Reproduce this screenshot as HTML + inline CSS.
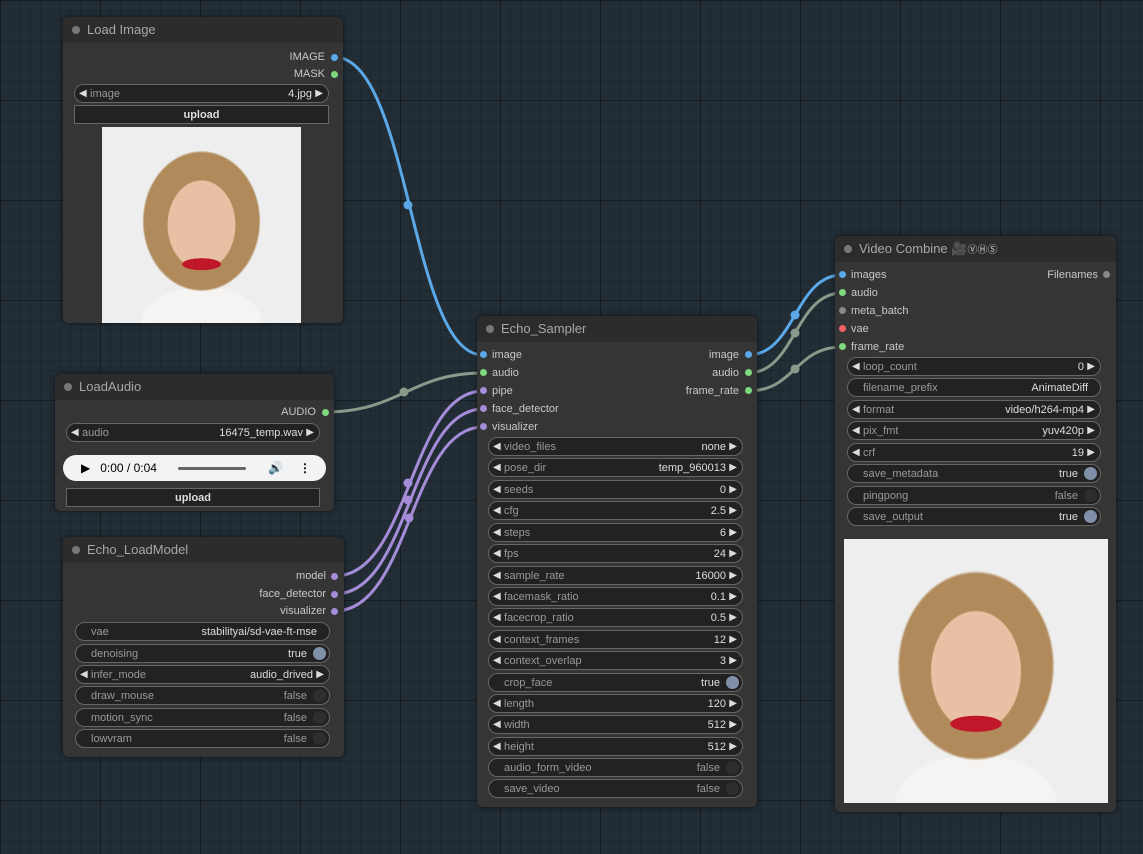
<!DOCTYPE html>
<html><head><meta charset="utf-8"><style>
*{box-sizing:border-box;margin:0;padding:0}
body{width:1143px;height:854px;overflow:hidden;background-color:#222d36;
background-image:linear-gradient(rgba(0,0,0,.25) 1px,transparent 1px),linear-gradient(90deg,rgba(0,0,0,.25) 1px,transparent 1px),linear-gradient(rgba(0,0,0,.12) 1px,transparent 1px),linear-gradient(90deg,rgba(0,0,0,.12) 1px,transparent 1px);
background-size:100px 100px,100px 100px,10px 10px,10px 10px;
font-family:"Liberation Sans",Arial,sans-serif;position:relative}
.n{position:absolute;background:#353535;border-radius:6px;box-shadow:0 0 6px rgba(0,0,0,.6)}
.t{position:absolute;left:0;top:0;right:0;height:26px;background:#2c2c2c;border-radius:6px 6px 0 0;color:#a8a8a8;font-size:13px;line-height:26px;padding-left:24px}
.t:before{content:"";position:absolute;left:9px;top:9px;width:8px;height:8px;border-radius:50%;background:#777}
.s{position:absolute;font-size:11px;color:#c8c8c8;line-height:14px;white-space:nowrap}
.d{position:absolute;width:7px;height:7px;border-radius:50%}
.w{position:absolute;height:19px;background:#222;border:1px solid #666;border-radius:10px;font-size:11px;line-height:18px;color:#999}
.w .l{position:absolute;left:15px}
.w .a{position:absolute;left:4px;color:#ddd;font-size:10px}
.w .b{position:absolute;right:5px;color:#ddd;font-size:10px}
.w .v{position:absolute;right:16px;color:#ddd}
.w .vt{position:absolute;right:22px;color:#ddd}
.w .vf{position:absolute;right:22px;color:#999}
.w .tg{position:absolute;right:3px;top:2px;width:13px;height:13px;border-radius:50%;background:#8090a8}
.w .tf{position:absolute;right:3px;top:2px;width:13px;height:13px;border-radius:50%;background:#2e2e2e}
.btn{position:absolute;height:19px;background:#222;border:1px solid #666;font-size:11px;line-height:18px;color:#ddd;text-align:center;font-weight:bold}
.img{position:absolute;background:
radial-gradient(ellipse 16% 5% at 50% 70%,#c0182a 60%,transparent 62%),
radial-gradient(ellipse 24% 32% at 50% 50%,#e8c0a4 70%,transparent 72%),
radial-gradient(ellipse 48% 58% at 50% 48%,#b08a5a 60%,transparent 62%),
radial-gradient(ellipse 50% 30% at 50% 100%,#f6f4f2 60%,transparent 62%),
#eeeeee}
</style></head><body>
<svg width="1143" height="854" style="position:absolute;left:0;top:0" fill="none" stroke-width="3">
<path d="M334 57 C410 57 410 355 483 355" stroke="#5aa8e8"/>
<path d="M325 412 C400 412 410 373 483 373" stroke="#8a9a8a"/>
<path d="M335 576 C410 576 410 391 483 391" stroke="#a48cd8"/>
<path d="M335 594 C410 594 410 409 483 409" stroke="#a48cd8"/>
<path d="M335 611 C410 611 410 427 483 427" stroke="#a48cd8"/>
<path d="M748 355 C795 355 795 275 842 275" stroke="#5aa8e8"/>
<path d="M748 373 C795 373 795 293 842 293" stroke="#8a9a8a"/>
<path d="M748 391 C795 391 795 347 842 347" stroke="#8a9a8a"/>
<g stroke="none"><circle cx="408" cy="205" r="4.5" fill="#5aa8e8"/><circle cx="404" cy="392" r="4.5" fill="#8a9a8a"/>
<circle cx="408" cy="483" r="4.5" fill="#a48cd8"/><circle cx="408" cy="500" r="4.5" fill="#a48cd8"/><circle cx="409" cy="518" r="4.5" fill="#a48cd8"/>
<circle cx="795" cy="315" r="4.5" fill="#5aa8e8"/><circle cx="795" cy="333" r="4.5" fill="#8a9a8a"/><circle cx="795" cy="369" r="4.5" fill="#8a9a8a"/></g>
</svg>

<div class="n" style="left:63px;top:17px;width:280px;height:306px">
<div class="t">Load Image</div>
<div class="s" style="right:18px;top:33px">IMAGE</div><div class="d" style="left:268px;top:37px;background:#5aa8e8"></div>
<div class="s" style="right:18px;top:50px">MASK</div><div class="d" style="left:268px;top:54px;background:#7ed87e"></div>
<div class="w" style="left:11px;top:67px;width:255px"><span class="a">◀</span><span class="l">image</span><span class="v">4.jpg</span><span class="b">▶</span></div>
<div class="btn" style="left:11px;top:88px;width:255px">upload</div>
<div class="img" style="left:39px;top:110px;width:199px;height:196px"></div>
</div>

<div class="n" style="left:55px;top:374px;width:279px;height:137px">
<div class="t">LoadAudio</div>
<div class="s" style="right:18px;top:31px">AUDIO</div><div class="d" style="left:267px;top:35px;background:#7ed87e"></div>
<div class="w" style="left:11px;top:49px;width:254px"><span class="a">◀</span><span class="l">audio</span><span class="v">16475_temp.wav</span><span class="b">▶</span></div>
<div style="position:absolute;left:8px;top:81px;width:263px;height:26px;background:#f1f3f4;border-radius:13px;font-size:12px;line-height:26px;color:#000;padding-left:18px">▶&nbsp;&nbsp;&nbsp;0:00 / 0:04<span style="position:absolute;left:115px;top:12px;width:68px;height:3px;background:#666;border-radius:2px"></span><span style="position:absolute;left:205px">🔊</span><span style="position:absolute;left:236px;font-weight:bold">⋮</span></div>
<div class="btn" style="left:11px;top:114px;width:254px">upload</div>
</div>

<div class="n" style="left:63px;top:537px;width:281px;height:220px">
<div class="t">Echo_LoadModel</div>
<div class="s" style="right:18px;top:32px">model</div><div class="d" style="left:268px;top:36px;background:#a48cd8"></div>
<div class="s" style="right:18px;top:50px">face_detector</div><div class="d" style="left:268px;top:54px;background:#a48cd8"></div>
<div class="s" style="right:18px;top:67px">visualizer</div><div class="d" style="left:268px;top:71px;background:#a48cd8"></div>
<div class="w" style="left:12px;top:85px;width:255px"><span class="l">vae</span><span class="v" style="right:12px">stabilityai/sd-vae-ft-mse</span></div>
<div class="w" style="left:12px;top:107px;width:255px"><span class="l">denoising</span><span class="vt">true</span><span class="tg"></span></div>
<div class="w" style="left:12px;top:128px;width:255px"><span class="a">◀</span><span class="l">infer_mode</span><span class="v">audio_drived</span><span class="b">▶</span></div>
<div class="w" style="left:12px;top:149px;width:255px"><span class="l">draw_mouse</span><span class="vf">false</span><span class="tf"></span></div>
<div class="w" style="left:12px;top:171px;width:255px"><span class="l">motion_sync</span><span class="vf">false</span><span class="tf"></span></div>
<div class="w" style="left:12px;top:192px;width:255px"><span class="l">lowvram</span><span class="vf">false</span><span class="tf"></span></div>
</div>

<div class="n" style="left:477px;top:316px;width:280px;height:491px">
<div class="t">Echo_Sampler</div>
<div class="d" style="left:3px;top:35px;background:#5aa8e8"></div><div class="s" style="left:15px;top:32px">image</div>
<div class="d" style="left:3px;top:53px;background:#7ed87e"></div><div class="s" style="left:15px;top:50px">audio</div>
<div class="d" style="left:3px;top:71px;background:#a48cd8"></div><div class="s" style="left:15px;top:68px">pipe</div>
<div class="d" style="left:3px;top:89px;background:#a48cd8"></div><div class="s" style="left:15px;top:86px">face_detector</div>
<div class="d" style="left:3px;top:107px;background:#a48cd8"></div><div class="s" style="left:15px;top:104px">visualizer</div>
<div class="s" style="right:18px;top:32px">image</div><div class="d" style="left:268px;top:35px;background:#5aa8e8"></div>
<div class="s" style="right:18px;top:50px">audio</div><div class="d" style="left:268px;top:53px;background:#7ed87e"></div>
<div class="s" style="right:18px;top:68px">frame_rate</div><div class="d" style="left:268px;top:71px;background:#7ed87e"></div>
<div class="w" style="left:11px;top:121px;width:255px"><span class="a">◀</span><span class="l">video_files</span><span class="v">none</span><span class="b">▶</span></div>
<div class="w" style="left:11px;top:142px;width:255px"><span class="a">◀</span><span class="l">pose_dir</span><span class="v">temp_960013</span><span class="b">▶</span></div>
<div class="w" style="left:11px;top:164px;width:255px"><span class="a">◀</span><span class="l">seeds</span><span class="v">0</span><span class="b">▶</span></div>
<div class="w" style="left:11px;top:185px;width:255px"><span class="a">◀</span><span class="l">cfg</span><span class="v">2.5</span><span class="b">▶</span></div>
<div class="w" style="left:11px;top:207px;width:255px"><span class="a">◀</span><span class="l">steps</span><span class="v">6</span><span class="b">▶</span></div>
<div class="w" style="left:11px;top:228px;width:255px"><span class="a">◀</span><span class="l">fps</span><span class="v">24</span><span class="b">▶</span></div>
<div class="w" style="left:11px;top:250px;width:255px"><span class="a">◀</span><span class="l">sample_rate</span><span class="v">16000</span><span class="b">▶</span></div>
<div class="w" style="left:11px;top:271px;width:255px"><span class="a">◀</span><span class="l">facemask_ratio</span><span class="v">0.1</span><span class="b">▶</span></div>
<div class="w" style="left:11px;top:292px;width:255px"><span class="a">◀</span><span class="l">facecrop_ratio</span><span class="v">0.5</span><span class="b">▶</span></div>
<div class="w" style="left:11px;top:314px;width:255px"><span class="a">◀</span><span class="l">context_frames</span><span class="v">12</span><span class="b">▶</span></div>
<div class="w" style="left:11px;top:335px;width:255px"><span class="a">◀</span><span class="l">context_overlap</span><span class="v">3</span><span class="b">▶</span></div>
<div class="w" style="left:11px;top:357px;width:255px"><span class="l">crop_face</span><span class="vt">true</span><span class="tg"></span></div>
<div class="w" style="left:11px;top:378px;width:255px"><span class="a">◀</span><span class="l">length</span><span class="v">120</span><span class="b">▶</span></div>
<div class="w" style="left:11px;top:399px;width:255px"><span class="a">◀</span><span class="l">width</span><span class="v">512</span><span class="b">▶</span></div>
<div class="w" style="left:11px;top:421px;width:255px"><span class="a">◀</span><span class="l">height</span><span class="v">512</span><span class="b">▶</span></div>
<div class="w" style="left:11px;top:442px;width:255px"><span class="l">audio_form_video</span><span class="vf">false</span><span class="tf"></span></div>
<div class="w" style="left:11px;top:463px;width:255px"><span class="l">save_video</span><span class="vf">false</span><span class="tf"></span></div>
</div>

<div class="n" style="left:835px;top:236px;width:281px;height:576px">
<div class="t">Video Combine <span style="color:#8a6cc8">🎥</span><span style="color:#ccc;font-size:10px">ⓋⒽⓈ</span></div>
<div class="d" style="left:4px;top:35px;background:#5aa8e8"></div><div class="s" style="left:16px;top:32px">images</div>
<div class="d" style="left:4px;top:53px;background:#7ed87e"></div><div class="s" style="left:16px;top:50px">audio</div>
<div class="d" style="left:4px;top:71px;background:#888"></div><div class="s" style="left:16px;top:68px">meta_batch</div>
<div class="d" style="left:4px;top:89px;background:#f06060"></div><div class="s" style="left:16px;top:86px">vae</div>
<div class="d" style="left:4px;top:107px;background:#7ed87e"></div><div class="s" style="left:16px;top:104px">frame_rate</div>
<div class="s" style="right:18px;top:32px">Filenames</div><div class="d" style="left:268px;top:35px;background:#888"></div>
<div class="w" style="left:12px;top:121px;width:254px"><span class="a">◀</span><span class="l">loop_count</span><span class="v">0</span><span class="b">▶</span></div>
<div class="w" style="left:12px;top:142px;width:254px"><span class="l">filename_prefix</span><span class="v" style="right:12px">AnimateDiff</span></div>
<div class="w" style="left:12px;top:164px;width:254px"><span class="a">◀</span><span class="l">format</span><span class="v">video/h264-mp4</span><span class="b">▶</span></div>
<div class="w" style="left:12px;top:185px;width:254px"><span class="a">◀</span><span class="l">pix_fmt</span><span class="v">yuv420p</span><span class="b">▶</span></div>
<div class="w" style="left:12px;top:207px;width:254px"><span class="a">◀</span><span class="l">crf</span><span class="v">19</span><span class="b">▶</span></div>
<div class="w" style="left:12px;top:228px;width:254px"><span class="l">save_metadata</span><span class="vt">true</span><span class="tg"></span></div>
<div class="w" style="left:12px;top:250px;width:254px"><span class="l">pingpong</span><span class="vf">false</span><span class="tf"></span></div>
<div class="w" style="left:12px;top:271px;width:254px"><span class="l">save_output</span><span class="vt">true</span><span class="tg"></span></div>
<div class="img" style="left:9px;top:303px;width:264px;height:264px"></div>
</div>
</body></html>
